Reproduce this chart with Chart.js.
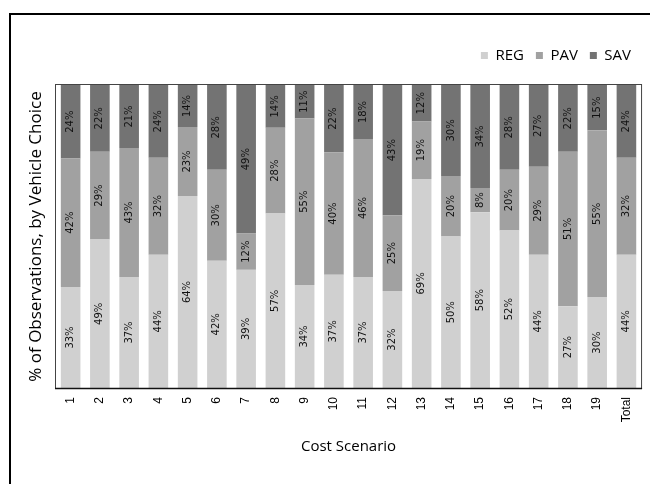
<!DOCTYPE html>
<html>
<head>
<meta charset="utf-8">
<script src="https://cdn.jsdelivr.net/npm/chart.js@4/dist/chart.umd.min.js"></script>
<style>
  html, body { margin: 0; padding: 0; background: #fff; }
  #wrap { position: relative; width: 650px; height: 484px; }
</style>
</head>
<body>
<div id="wrap"><canvas id="chart" width="650" height="484"></canvas></div>
<script>
// Cost scenarios on the x axis
const scenarios = ['1','2','3','4','5','6','7','8','9','10','11','12','13','14','15','16','17','18','19','Total'];

// Share of observations (%) choosing each vehicle type
const regShare = [33, 49, 37, 44, 64, 42, 39, 57, 34, 37, 37, 32, 69, 50, 58, 52, 44, 27, 30, 44];
const pavShare = [42, 29, 43, 32, 23, 30, 12, 28, 55, 40, 46, 25, 19, 20,  8, 20, 29, 51, 55, 32];
const savShare = [24, 22, 21, 24, 14, 28, 49, 14, 11, 22, 18, 43, 12, 30, 34, 28, 27, 22, 15, 24];

const seriesNames = ['REG', 'PAV', 'SAV'];
const seriesColors = ['#d0d0d0', '#a1a1a1', '#737373'];
const seriesValues = [regShare, pavShare, savShare];

// Rounded shares don't always add to exactly 100, so each column is scaled to fill 100%
const rowTotals = scenarios.map((_, i) => regShare[i] + pavShare[i] + savShare[i]);

const datasets = seriesValues.map((vals, s) => ({
  label: seriesNames[s],
  data: vals.map((v, i) => v / rowTotals[i] * 100),
  rawValues: vals,
  backgroundColor: seriesColors[s],
  borderWidth: 0,
  barPercentage: 0.67,
  categoryPercentage: 1.0
}));

// Black frame along the top and left edges of the figure
const framePlugin = {
  id: 'frame',
  beforeDraw(chart) {
    const ctx = chart.ctx;
    ctx.save();
    ctx.fillStyle = '#fff';
    ctx.fillRect(0, 0, chart.width, chart.height);
    ctx.fillStyle = '#000';
    ctx.fillRect(9, 13, 2, chart.height - 13);
    ctx.fillRect(9, 13, chart.width - 9, 2);
    ctx.restore();
  }
};

// Box around the plotting area
const plotBoxPlugin = {
  id: 'plotBox',
  afterDatasetsDraw(chart) {
    const { ctx, chartArea: a } = chart;
    ctx.save();
    ctx.strokeStyle = '#444';
    ctx.lineWidth = 1;
    ctx.strokeRect(a.left - 0.5, a.top - 0.5, a.right - a.left + 1, a.bottom - a.top + 1);
    ctx.strokeStyle = '#111';
    ctx.lineWidth = 1.5;
    ctx.beginPath();
    ctx.moveTo(a.left - 1, a.bottom + 0.5);
    ctx.lineTo(a.right + 1, a.bottom + 0.5);
    ctx.stroke();
    ctx.restore();
  }
};

// Percentage labels written vertically in the middle of each segment
const segmentLabelPlugin = {
  id: 'segmentLabels',
  afterDatasetsDraw(chart) {
    const ctx = chart.ctx;
    ctx.save();
    ctx.font = '10px "DejaVu Sans", sans-serif';
    ctx.fillStyle = '#111';
    ctx.textAlign = 'center';
    ctx.textBaseline = 'middle';
    chart.data.datasets.forEach((ds, di) => {
      const meta = chart.getDatasetMeta(di);
      meta.data.forEach((bar, i) => {
        const { x, y, base } = bar.getProps(['x', 'y', 'base'], true);
        const cy = (y + base) / 2;
        ctx.save();
        ctx.translate(x, cy);
        ctx.rotate(-Math.PI / 2);
        ctx.fillText(ds.rawValues[i] + '%', 0, 0);
        ctx.restore();
      });
    });
    ctx.restore();
  }
};

new Chart(document.getElementById('chart'), {
  type: 'bar',
  data: { labels: scenarios, datasets },
  plugins: [framePlugin, plotBoxPlugin, segmentLabelPlugin],
  options: {
    responsive: false,
    animation: false,
    devicePixelRatio: 1,
    layout: { padding: { top: 36, right: 7, bottom: 0, left: 0 } },
    plugins: {
      legend: {
        position: 'top',
        align: 'end',
        labels: {
          boxWidth: 7,
          boxHeight: 7,
          padding: 12,
          color: '#000',
          font: { family: '"Open Sans", sans-serif', size: 15 }
        }
      },
      title: {
        display: true,
        text: '',
        weight: 500,
        font: { size: 10 },
        padding: 0
      },
      tooltip: { enabled: false }
    },
    scales: {
      x: {
        stacked: true,
        grid: { display: false, drawTicks: false },
        border: { display: false },
        ticks: {
          autoSkip: false,
          minRotation: 90,
          maxRotation: 90,
          padding: 9,
          color: '#000',
          font: { family: '"Liberation Sans", Arial, sans-serif', size: 12 }
        },
        title: {
          display: true,
          text: 'Cost Scenario',
          color: '#000',
          font: { family: '"Open Sans", sans-serif', size: 15 },
          padding: { top: 0, bottom: 28 }
        },
        afterFit(scale) { scale.height = 96; }
      },
      y: {
        stacked: true,
        min: 0,
        max: 100,
        grid: { display: false, drawTicks: false },
        border: { display: false },
        ticks: { display: false },
        title: {
          display: true,
          text: '% of Observations, by Vehicle Choice',
          color: '#000',
          font: { family: '"Open Sans", sans-serif', size: 17 },
          padding: { top: 26, bottom: 0 }
        },
        afterFit(scale) { scale.width = 56; }
      }
    }
  }
});
</script>
</body>
</html>
